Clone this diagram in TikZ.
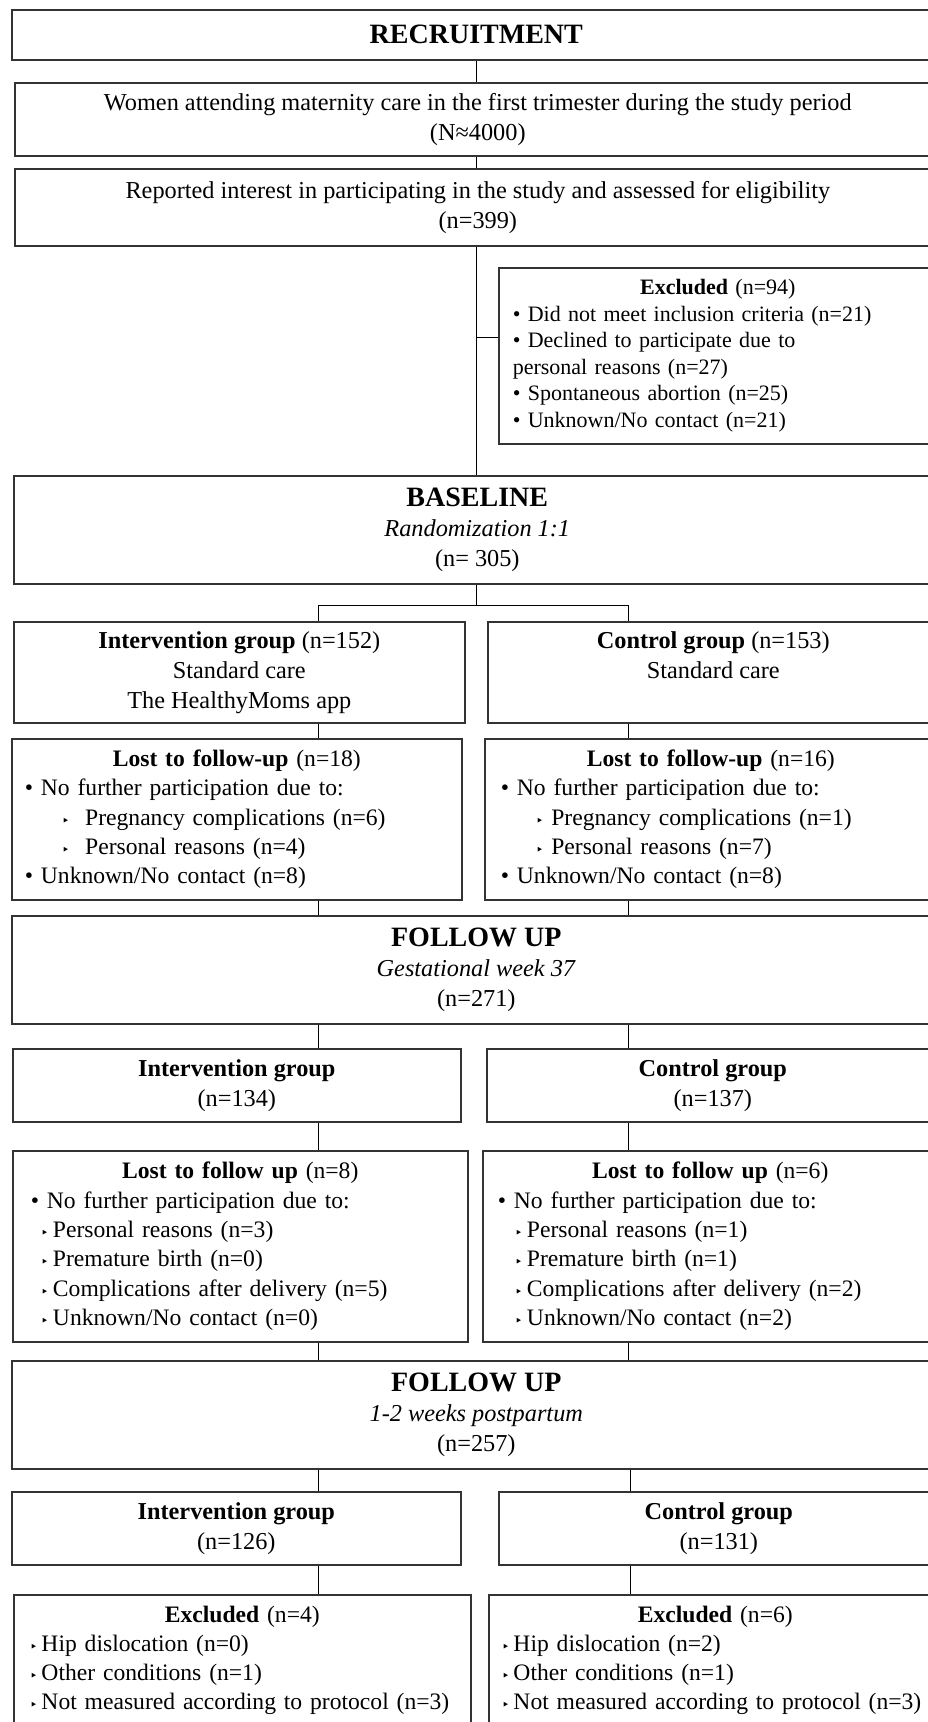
\documentclass[tikz,border=0pt]{standalone}
\usepackage{fontspec}
\setmainfont{Liberation Serif}
\newfontfamily\symfont{DejaVu Sans}
\newcommand\tri{{\symfont\fontsize{13}{13}\selectfont ‣}}
\newcommand\hdr[1]{{\fontsize{28}{30}\selectfont\textbf{#1}}}
\newcommand\ctr[1]{{\centering #1\par}\raggedright}
\tikzset{
  bx/.style={draw=black!80, line width=1.6pt, rectangle, anchor=north west, inner sep=0pt,
    font=\fontsize{24.3}{30}\selectfont, align=center},
  lbx/.style={draw=black!80, line width=1.6pt, rectangle, anchor=north west, inner ysep=0pt,
    font=\fontsize{23.6}{29.3}\selectfont},
  conn/.style={line width=1pt, black}
}
\begin{document}
\begin{tikzpicture}[x=1pt,y=-1pt]
\useasboundingbox (0,0) rectangle (928,1722);
\clip (0,0) rectangle (928,1722);
\coordinate (cx) at (476,0);
\coordinate (cl) at (318,0);
\coordinate (cr) at (628,0);
\coordinate (cr2) at (630,0);
\coordinate (brx) at (476,337);
\coordinate (brb) at (476,605);

% recruitment
\node[bx, minimum width=929pt, minimum height=50pt] (recruit) at (11,9) {\hdr{RECRUITMENT}};
\node[bx, minimum width=926pt, minimum height=73pt] (women) at (14,82)
  {Women attending maternity care in the first trimester during the study period\\(N≈4000)};
\node[bx, minimum width=926pt, minimum height=77pt] (reported) at (14,168)
  {Reported interest in participating in the study and assessed for eligibility\\(n=399)};
\node[lbx, inner xsep=14pt, text width=410pt, minimum height=176pt, font=\fontsize{22}{26.6}\selectfont] (excl) at (498,267)
  {\ctr{\textbf{Excluded} (n=94)}
   \mbox{• Did not meet inclusion criteria (n=21)}\\
   \mbox{• Declined to participate due to}\\
   \mbox{personal reasons (n=27)}\\
   \mbox{• Spontaneous abortion (n=25)}\\
   \mbox{• Unknown/No contact (n=21)}};

% baseline
\node[bx, minimum width=927pt, minimum height=108pt] (base) at (13,475)
  {\hdr{BASELINE}\\\textit{Randomization 1:1}\\(n= 305)};
\node[bx, minimum width=451pt, minimum height=101pt] (grpL1) at (13,621)
  {\textbf{Intervention group} (n=152)\\Standard care\\The HealthyMoms app};
\node[bx, minimum width=451pt, minimum height=101pt] (grpR1) at (487,621)
  {\textbf{Control group} (n=153)\\Standard care\\\phantom{(}};
\node[lbx, inner xsep=13pt, text width=424pt, minimum height=161pt] (lostL1) at (11,738)
  {\ctr{\textbf{Lost to follow-up} (n=18)}
   \mbox{• No further participation due to:}\\
   \mbox{\hspace*{37pt}\tri\ \ Pregnancy complications (n=6)}\\
   \mbox{\hspace*{37pt}\tri\ \ Personal reasons (n=4)}\\
   \mbox{• Unknown/No contact (n=8)}};
\node[lbx, inner xsep=16pt, text width=420pt, minimum height=161pt] (lostR1) at (484,738)
  {\ctr{\textbf{Lost to follow-up} (n=16)}
   \mbox{• No further participation due to:}\\
   \mbox{\hspace*{35pt}\tri\ Pregnancy complications (n=1)}\\
   \mbox{\hspace*{35pt}\tri\ Personal reasons (n=7)}\\
   \mbox{• Unknown/No contact (n=8)}};

% follow up 1
\node[bx, minimum width=929pt, minimum height=108pt] (fu1) at (11,915)
  {\hdr{FOLLOW UP}\\\textit{Gestational week 37}\\(n=271)};
\node[bx, minimum width=448pt, minimum height=73pt] (grpL2) at (12,1048)
  {\textbf{Intervention group}\\(n=134)};
\node[bx, minimum width=452pt, minimum height=73pt] (grpR2) at (486,1048)
  {\textbf{Control group}\\(n=137)};
\node[lbx, inner xsep=18pt, text width=419pt, minimum height=191pt] (lostL2) at (12,1150)
  {\ctr{\textbf{Lost to follow up} (n=8)}
   \mbox{• No further participation due to:}\\
   \mbox{\hspace*{10pt}\tri\hspace{4.5pt}Personal reasons (n=3)}\\
   \mbox{\hspace*{10pt}\tri\hspace{4.5pt}Premature birth (n=0)}\\
   \mbox{\hspace*{10pt}\tri\hspace{4.5pt}Complications after delivery (n=5)}\\
   \mbox{\hspace*{10pt}\tri\hspace{4.5pt}Unknown/No contact (n=0)}};
\node[lbx, inner xsep=15pt, text width=425pt, minimum height=191pt] (lostR2) at (482,1150)
  {\ctr{\textbf{Lost to follow up} (n=6)}
   \mbox{• No further participation due to:}\\
   \mbox{\hspace*{17pt}\tri\hspace{4.5pt}Personal reasons (n=1)}\\
   \mbox{\hspace*{17pt}\tri\hspace{4.5pt}Premature birth (n=1)}\\
   \mbox{\hspace*{17pt}\tri\hspace{4.5pt}Complications after delivery (n=2)}\\
   \mbox{\hspace*{17pt}\tri\hspace{4.5pt}Unknown/No contact (n=2)}};

% follow up 2
\node[bx, minimum width=929pt, minimum height=108pt] (fu2) at (11,1360)
  {\hdr{FOLLOW UP}\\\textit{1-2 weeks postpartum}\\(n=257)};
\node[bx, minimum width=449pt, minimum height=73pt] (grpL3) at (11,1491)
  {\textbf{Intervention group}\\(n=126)};
\node[bx, minimum width=440pt, minimum height=73pt] (grpR3) at (498,1491)
  {\textbf{Control group}\\(n=131)};
\node[lbx, inner xsep=17pt, text width=423pt, minimum height=131pt] (exL3) at (13,1594)
  {\ctr{\textbf{Excluded} (n=4)}
   \mbox{\hspace*{-1pt}\tri\hspace{4pt}Hip dislocation (n=0)}\\
   \mbox{\hspace*{-1pt}\tri\hspace{4pt}Other conditions (n=1)}\\
   \mbox{\hspace*{-1pt}\tri\hspace{4pt}Not measured according to protocol (n=3)}};
\node[lbx, inner xsep=15pt, text width=423pt, minimum height=131pt] (exR3) at (488,1594)
  {\ctr{\textbf{Excluded} (n=6)}
   \mbox{\hspace*{-2pt}\tri\hspace{4pt}Hip dislocation (n=2)}\\
   \mbox{\hspace*{-2pt}\tri\hspace{4pt}Other conditions (n=1)}\\
   \mbox{\hspace*{-2pt}\tri\hspace{4pt}Not measured according to protocol (n=3)}};

% connectors
\draw[conn] (recruit.south -| cx) -- (women.north -| cx);
\draw[conn] (women.south -| cx) -- (reported.north -| cx);
\draw[conn] (reported.south -| cx) -- (base.north -| cx);
\draw[conn] (brx) -- (brx -| excl.west);
\draw[conn] (base.south -| cx) -- (brb);
\draw[conn] (brb -| cl) -- (brb -| cr);
\draw[conn] (brb -| cl) -- (grpL1.north -| cl);
\draw[conn] (brb -| cr) -- (grpR1.north -| cr);
\draw[conn] (grpL1.south -| cl) -- (lostL1.north -| cl);
\draw[conn] (grpR1.south -| cr) -- (lostR1.north -| cr);
\draw[conn] (lostL1.south -| cl) -- (fu1.north -| cl);
\draw[conn] (lostR1.south -| cr) -- (fu1.north -| cr);
\draw[conn] (fu1.south -| cl) -- (grpL2.north -| cl);
\draw[conn] (fu1.south -| cr) -- (grpR2.north -| cr);
\draw[conn] (grpL2.south -| cl) -- (lostL2.north -| cl);
\draw[conn] (grpR2.south -| cr) -- (lostR2.north -| cr);
\draw[conn] (lostL2.south -| cl) -- (fu2.north -| cl);
\draw[conn] (lostR2.south -| cr) -- (fu2.north -| cr);
\draw[conn] (fu2.south -| cl) -- (grpL3.north -| cl);
\draw[conn] (fu2.south -| cr2) -- (grpR3.north -| cr2);
\draw[conn] (grpL3.south -| cl) -- (exL3.north -| cl);
\draw[conn] (grpR3.south -| cr2) -- (exR3.north -| cr2);
\end{tikzpicture}
\end{document}
